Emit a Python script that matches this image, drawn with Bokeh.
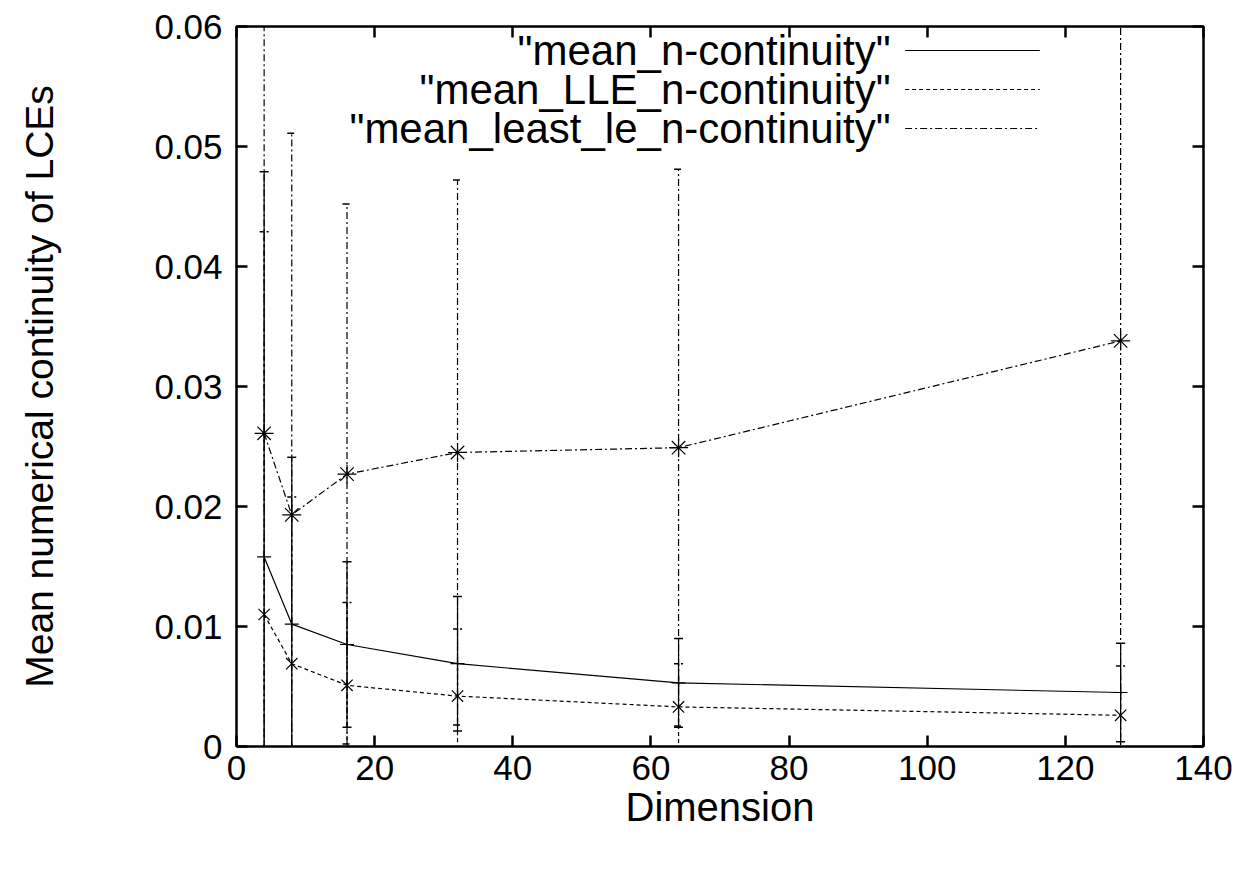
from bokeh.plotting import figure
from bokeh.models import (ColumnDataSource, FixedTicker, NumeralTickFormatter,
                          LinearAxis, Range1d, Label, CustomJSTickFormatter)
from bokeh.embed import file_html
from bokeh.resources import INLINE

# Dimension of the system
dims = [4, 8, 16, 32, 64, 128]

# "mean_n-continuity" with its error half-widths
mean_n = [0.0158, 0.0102, 0.0085, 0.0069, 0.0053, 0.0045]
mean_n_err = [0.0321, 0.0139, 0.0069, 0.0056, 0.0037, 0.0041]

# "mean_LLE_n-continuity"
mean_lle = [0.0110, 0.0069, 0.0051, 0.0042, 0.0033, 0.0026]
mean_lle_err = [0.0319, 0.0139, 0.0069, 0.0056, 0.0036, 0.0041]

# "mean_least_le_n-continuity"
mean_least = [0.0261, 0.0193, 0.0227, 0.0245, 0.0249, 0.0338]
mean_least_err = [0.0365, 0.0318, 0.0225, 0.0227, 0.0232, 0.0345]

x_ticks = [0, 20, 40, 60, 80, 100, 120, 140]
y_ticks = [0, 0.01, 0.02, 0.03, 0.04, 0.05, 0.06]

series_labels = ['"mean_n-continuity"', '"mean_LLE_n-continuity"',
                 '"mean_least_le_n-continuity"']

FONT = "Liberation Sans"

p = figure(width=1249, height=870, x_range=Range1d(0, 140), y_range=Range1d(0, 0.06),
           output_backend="svg", toolbar_location=None,
           min_border_left=236, min_border_right=46, min_border_top=26,
           min_border_bottom=124)
p.grid.visible = False
p.background_fill_color = "white"
p.border_fill_color = "white"
p.outline_line_color = "black"
p.outline_line_width = 2

for ax, ticks in ((p.xaxis[0], x_ticks), (p.yaxis[0], y_ticks)):
    ax.ticker = FixedTicker(ticks=ticks)
    ax.major_tick_in = 11
    ax.major_tick_out = 0
    ax.major_tick_line_width = 2.5
    ax.minor_tick_line_color = None
    ax.axis_line_width = 2
    ax.major_label_text_font = FONT
    ax.major_label_text_font_size = "35px"
    ax.major_label_text_color = "black"
    ax.axis_label_text_font = FONT
    ax.axis_label_text_font_style = "normal"
    ax.axis_label_text_color = "black"

p.xaxis.axis_label = "Dimension"
p.xaxis.axis_label_text_font_size = "40px"
p.xaxis.major_label_standoff = 9
p.xaxis.axis_label_standoff = 2
p.yaxis.axis_label = "Mean numerical continuity of LCEs"
p.yaxis.axis_label_text_font_size = "39px"
p.yaxis.formatter = NumeralTickFormatter(format="0.[00]")
p.yaxis.major_label_standoff = 14
p.yaxis.axis_label_standoff = 90

# mirrored tick marks on the top and right edges of the box
blank = CustomJSTickFormatter(code="return ''")
for ticks, side in ((x_ticks, "above"), (y_ticks, "right")):
    ax = LinearAxis(ticker=FixedTicker(ticks=ticks), formatter=blank,
                    major_tick_in=11, major_tick_out=0, major_tick_line_width=2.5,
                    minor_tick_line_color=None, axis_line_width=2,
                    major_label_standoff=0)
    p.add_layout(ax, side)

series = [
    (mean_n, mean_n_err, "solid", "cross", 14),
    (mean_lle, mean_lle_err, "4 3", "x", 16),
    (mean_least, mean_least_err, "7 3 2 3", "asterisk", 19),
]

for vals, errs, dash, marker, msize in series:
    src = ColumnDataSource(dict(
        x=dims, y=vals,
        lo=[v - e for v, e in zip(vals, errs)],
        hi=[v + e for v, e in zip(vals, errs)],
    ))
    p.segment(x0="x", y0="lo", x1="x", y1="hi", source=src,
              line_color="black", line_width=1.2, line_dash=dash)
    p.scatter(x="x", y="lo", source=src, marker="dash", size=9,
              line_color="black", line_width=1.5, line_dash=dash)
    p.scatter(x="x", y="hi", source=src, marker="dash", size=9,
              line_color="black", line_width=1.5, line_dash=dash)
    p.line(x="x", y="y", source=src, line_color="black", line_width=1.2,
           line_dash=dash)
    p.scatter(x="x", y="y", source=src, marker=marker, size=msize,
              line_color="black", line_width=1.2, fill_color=None)

# key in the upper right: text on the left, line sample on the right
key_rows = [0.0580, 0.05475, 0.0515]
for label, row, (_, _, dash, _, _) in zip(series_labels, key_rows, series):
    p.add_layout(Label(x=94.7, y=row, text=label, text_align="right",
                       text_baseline="middle", text_font=FONT,
                       text_font_size="42px", text_color="black"))
    p.segment(x0=[96.8], y0=[row], x1=[116.3], y1=[row], line_color="black",
              line_width=1.2, line_dash=dash)

open("out.html", "w").write(file_html(p, INLINE))
